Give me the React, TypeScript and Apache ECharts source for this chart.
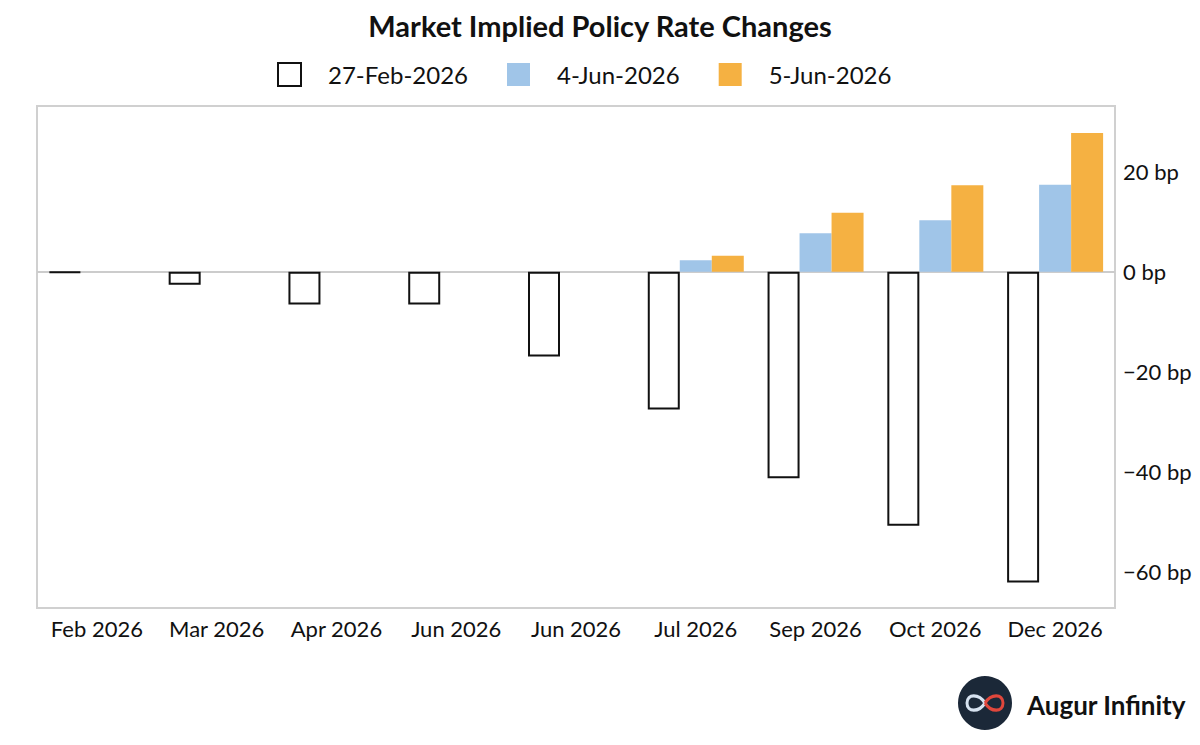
import React, { useEffect, useRef } from "react";
import * as echarts from "echarts";

const categories = ["Feb 2026", "Mar 2026", "Apr 2026", "Jun 2026", "Jun 2026", "Jul 2026", "Sep 2026", "Oct 2026", "Dec 2026"];
const seriesNames = ["27-Feb-2026", "4-Jun-2026", "5-Jun-2026"];
const feb27 = [-0.2, -2.6, -6.6, -6.6, -17.0, -27.6, -41.4, -50.9, -62.3];
const jun4 = [0, 0, 0, 0, 0, 2.3, 7.7, 10.3, 17.4];
const jun5 = [0, 0, 0, 0, 0, 3.2, 11.8, 17.3, 27.8];
const yTickValues = [-60, -40, -20, 0, 20];
const yTickLabels = ["\u221260 bp", "\u221240 bp", "\u221220 bp", "0 bp", "20 bp"];

const FONT = "Lato, 'Noto Sans', sans-serif";

let registered = false;
function registerShapes() {
  if (registered) return;
  registered = true;
  echarts.graphic.registerShape(
    "infLeft",
    echarts.graphic.extendPath("M 0 0 C -4 -6 -12 -6 -12 0 C -12 6 -4 6 0 0", {}) as any
  );
  echarts.graphic.registerShape(
    "infRight",
    echarts.graphic.extendPath("M 0 0 C 4 -6 12 -6 12 0 C 12 6 4 6 0 0", {}) as any
  );
}

export default function App() {
  const ref = useRef<HTMLDivElement>(null);
  useEffect(() => {
    if (!ref.current) return;
    registerShapes();
    const chart = echarts.init(ref.current, undefined, { renderer: "svg" });
    const option: any = {
      animation: false,
      backgroundColor: "#ffffff",
      textStyle: { fontFamily: FONT },
      title: {
        text: "Market Implied Policy Rate Changes",
        left: "center",
        top: 6,
        textStyle: { fontFamily: FONT, fontSize: 29, fontWeight: "bold", color: "#111111" },
      },
      legend: {
        left: 272,
        top: 57,
        itemWidth: 23,
        itemHeight: 23,
        itemGap: 39,
        icon: "rect",
        data: seriesNames,
        textStyle: { fontFamily: FONT, fontSize: 24, color: "#111111", padding: [0, 0, 0, 22] },
      },
      grid: {
        left: 37,
        right: 85,
        top: 106,
        bottom: 137,
        show: true,
        borderColor: "#d0d0d0",
        borderWidth: 2,
        backgroundColor: "transparent",
      },
      xAxis: {
        type: "category",
        data: categories,
        axisLine: { show: false, onZero: false },
        axisTick: { show: false },
        splitLine: { show: false },
        axisLabel: { fontFamily: FONT, fontSize: 22, color: "#111111", margin: 9, interval: 0 },
      },
      yAxis: {
        type: "value",
        position: "right",
        min: -67.4,
        max: 33.2,
        splitLine: { show: false },
        axisLine: { show: false },
        axisTick: { show: false },
        axisLabel: {
          customValues: yTickValues,
          fontFamily: FONT,
          fontSize: 22,
          color: "#111111",
          margin: 8,
          formatter: (v: number) => {
            const i = yTickValues.indexOf(Math.round(v));
            return i >= 0 ? yTickLabels[i] : "";
          },
        },
      },
      series: [
        {
          name: seriesNames[0],
          type: "bar",
          data: feb27,
          barWidth: 32,
          barGap: "0%",
          itemStyle: { color: "#ffffff", borderColor: "#111111", borderWidth: 2 },
          markLine: {
            silent: true,
            symbol: "none",
            label: { show: false },
            lineStyle: { color: "#cccccc", width: 2, type: "solid" },
            data: [{ yAxis: 0 }],
            z: 1,
          },
          z: 3,
        },
        {
          name: seriesNames[1],
          type: "bar",
          data: jun4,
          barWidth: 32,
          barGap: "0%",
          itemStyle: { color: "#a0c5e8" },
          z: 3,
        },
        {
          name: seriesNames[2],
          type: "bar",
          data: jun5,
          barWidth: 32,
          barGap: "0%",
          itemStyle: { color: "#f5b142" },
          z: 3,
        },
      ],
      graphic: [
        { type: "circle", shape: { cx: 985, cy: 703, r: 27 }, style: { fill: "#1b2838" } },
        { type: "infLeft", x: 985, y: 703, scaleX: 1.5, scaleY: 1.6, style: { fill: "none", stroke: "#d6e2f0", lineWidth: 2 } },
        { type: "infRight", x: 985, y: 703, scaleX: 1.5, scaleY: 1.6, style: { fill: "none", stroke: "#e0473c", lineWidth: 2 } },
        {
          type: "text",
          x: 1027,
          y: 705,
          style: {
            text: "Augur Infinity",
            fontFamily: FONT,
            fontSize: 26,
            fontWeight: "bold",
            fill: "#111111",
            verticalAlign: "middle",
          },
        },
      ],
    };
    chart.setOption(option);
    return () => chart.dispose();
  }, []);
  return <div ref={ref} style={{ position: "fixed", left: 0, top: 0, width: 1200, height: 745 }} />;
}
